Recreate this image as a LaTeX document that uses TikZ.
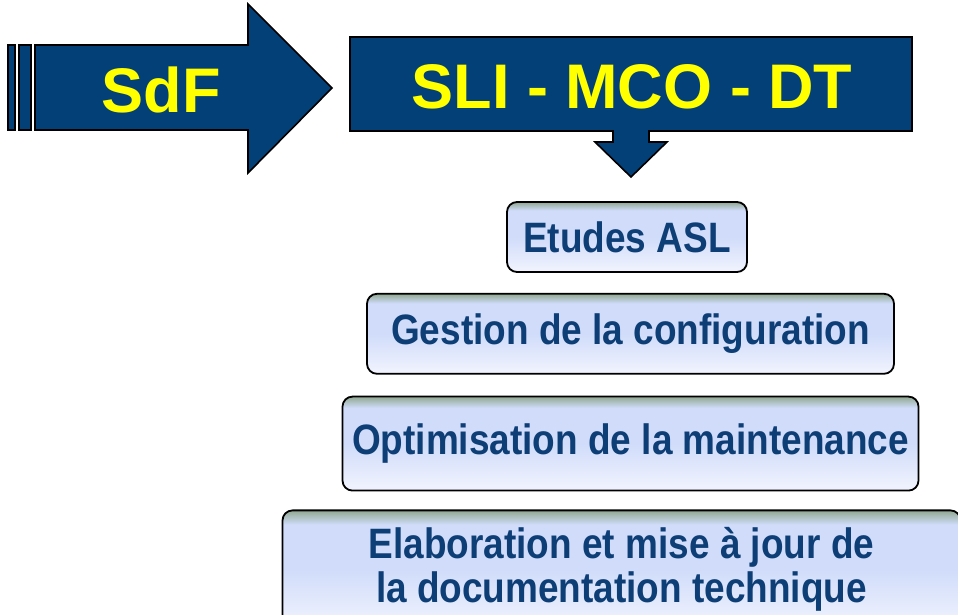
\documentclass[tikz,border=0pt]{standalone}
\usepackage{fontspec}
\setmainfont{Liberation Sans}
\newfontfamily\narrowfont[FakeStretch=0.87]{Liberation Sans Bold}
\usepackage{tikz}
\usetikzlibrary{positioning}

\definecolor{sdfblue}{RGB}{4,64,120}
\definecolor{sdfyellow}{RGB}{255,255,0}
\definecolor{steptext}{RGB}{14,62,118}
\definecolor{steptop}{RGB}{145,168,145}
\definecolor{stepmid}{RGB}{208,220,250}
\definecolor{stepbot}{RGB}{242,244,254}
\pgfdeclareverticalshading{stepshade}{100bp}{color(0bp)=(stepbot); color(25bp)=(stepbot); color(50bp)=(stepmid); color(69bp)=(stepmid); color(75bp)=(steptop); color(100bp)=(steptop)}

\begin{document}
\begin{tikzpicture}[x=1pt, y=1pt, node distance=20pt]
    % Define styles
    \tikzstyle{stepbox} = [rectangle, rounded corners=10pt, draw=black, line width=1.8pt, shading=stepshade, text=steptext, font=\narrowfont\fontsize{42.5}{44}\selectfont, align=center, inner sep=0pt]
    \tikzstyle{bigarrow} = [draw=black, line width=1.6pt, fill=sdfblue, line join=miter]
    \tikzstyle{title} = [text=sdfyellow, font=\bfseries\fontsize{63}{63}\selectfont, anchor=base]

    \useasboundingbox (0,0) rectangle (958,615);

    % SdF arrow with its two bars
    \draw[bigarrow] (8,485) rectangle (15,570);
    \draw[bigarrow] (19,485) rectangle (31,570);
    \draw[bigarrow] (35,570) -- (248,570) -- (248,611) -- (332,527) -- (248,442) -- (248,485) -- (35,485) -- cycle;

    % SLI box with the arrow pointing down
    \draw[bigarrow] (350,578) -- (912,578) -- (912,484) -- (649,484) -- (649,473) -- (667,473) -- (631,438)
        -- (595,473) -- (613,473) -- (613,484) -- (350,484) -- cycle;

    % Titles
    \node[title] (sdf) at (161,502) {SdF};
    \node[title] (sli) at (632,506) {SLI - MCO - DT};

    % Draw the steps
    \node[stepbox, minimum width=240pt, minimum height=70pt] (etudes) at (627,378) {Etudes ASL};
    \node[stepbox, minimum width=527pt, minimum height=80pt, below=20pt of etudes, xshift=3.5pt] (gestion) {Gestion de la configuration};
    \node[stepbox, minimum width=576pt, minimum height=94pt, below=21pt of gestion] (optim) {Optimisation de la maintenance};
    \node[stepbox, minimum width=678pt, minimum height=118pt, below=18pt of optim, xshift=-9pt] (elab) {Elaboration et mise à jour de\\la documentation technique};
\end{tikzpicture}
\end{document}
